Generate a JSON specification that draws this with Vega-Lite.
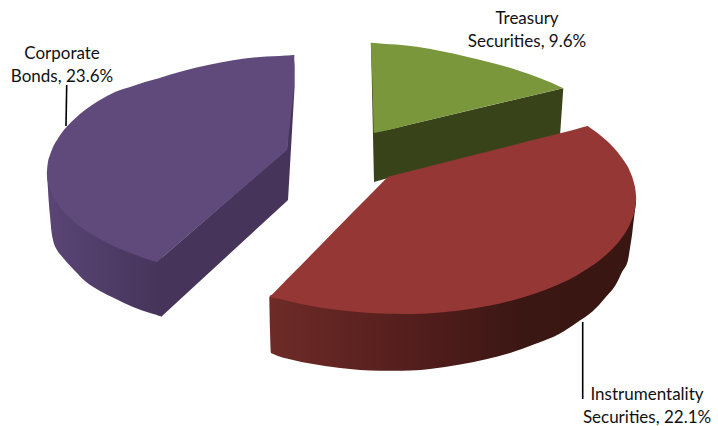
{
  "$schema": "https://vega.github.io/schema/vega-lite/v6.json",
  "width": 718,
  "height": 426,
  "padding": 0,
  "autosize": {"type": "none"},
  "background": "white",
  "config": {"view": {"stroke": null}},
  "datasets": {
    "faces": [
      {"f":"treasury_cut","x":371,"y":43,"y2":43},
      {"f":"treasury_cut","x":372,"y":43,"y2":89},
      {"f":"treasury_cut","x":374,"y":44,"y2":182},
      {"f":"treasury_cut","x":388,"y":129.7,"y2":178},
      {"f":"treasury_cut","x":560,"y":89,"y2":136},
      {"f":"treasury_cut","x":563.3,"y":88.3,"y2":88.3},

      {"f":"treasury_top","x":370.7,"y":42.7,"y2":42.7},
      {"f":"treasury_top","x":372,"y":42.8,"y2":73},
      {"f":"treasury_top","x":373,"y":42.9,"y2":103},
      {"f":"treasury_top","x":374,"y":43,"y2":133},
      {"f":"treasury_top","x":375,"y":43.1,"y2":132.8},
      {"f":"treasury_top","x":416.7,"y":46.7,"y2":122.9},
      {"f":"treasury_top","x":466.7,"y":56.7,"y2":111},
      {"f":"treasury_top","x":516.7,"y":70,"y2":99.3},
      {"f":"treasury_top","x":562.3,"y":87.8,"y2":88.5},
      {"f":"treasury_top","x":563.3,"y":88.3,"y2":88.3},

      {"f":"instrumentality_side","x":269.3,"y":297.3,"y2":297.3},
      {"f":"instrumentality_side","x":270,"y":296,"y2":330},
      {"f":"instrumentality_side","x":271,"y":295,"y2":353},
      {"f":"instrumentality_side","x":272,"y":295,"y2":353.5},
      {"f":"instrumentality_side","x":293,"y":297,"y2":360},
      {"f":"instrumentality_side","x":310,"y":300,"y2":363.5},
      {"f":"instrumentality_side","x":340,"y":305,"y2":368},
      {"f":"instrumentality_side","x":360,"y":307,"y2":370},
      {"f":"instrumentality_side","x":380,"y":308,"y2":370.8},
      {"f":"instrumentality_side","x":403,"y":309,"y2":370.7},
      {"f":"instrumentality_side","x":430,"y":308,"y2":369},
      {"f":"instrumentality_side","x":460,"y":305,"y2":364.5},
      {"f":"instrumentality_side","x":485,"y":301,"y2":359.5},
      {"f":"instrumentality_side","x":510,"y":296,"y2":353},
      {"f":"instrumentality_side","x":535,"y":288,"y2":344},
      {"f":"instrumentality_side","x":560,"y":279,"y2":333.5},
      {"f":"instrumentality_side","x":577,"y":270,"y2":322.5},
      {"f":"instrumentality_side","x":593,"y":259,"y2":311},
      {"f":"instrumentality_side","x":605,"y":249,"y2":298},
      {"f":"instrumentality_side","x":616.7,"y":237,"y2":283},
      {"f":"instrumentality_side","x":622,"y":232,"y2":272},
      {"f":"instrumentality_side","x":628,"y":220,"y2":260},
      {"f":"instrumentality_side","x":630,"y":215,"y2":248},
      {"f":"instrumentality_side","x":632,"y":210,"y2":235},
      {"f":"instrumentality_side","x":634,"y":205,"y2":218},
      {"f":"instrumentality_side","x":636,"y":198.3,"y2":203},

      {"f":"instrumentality_top","x":269.3,"y":297.3,"y2":297.3},
      {"f":"instrumentality_top","x":280,"y":286.4,"y2":299},
      {"f":"instrumentality_top","x":293,"y":273.2,"y2":302.2},
      {"f":"instrumentality_top","x":310,"y":255.9,"y2":305.7},
      {"f":"instrumentality_top","x":326.7,"y":238.9,"y2":308.4},
      {"f":"instrumentality_top","x":345,"y":220.3,"y2":310.8},
      {"f":"instrumentality_top","x":360,"y":205.1,"y2":312.3},
      {"f":"instrumentality_top","x":380,"y":184.8,"y2":313.5},
      {"f":"instrumentality_top","x":387,"y":177.7,"y2":313.7},
      {"f":"instrumentality_top","x":388,"y":176.7,"y2":313.8},
      {"f":"instrumentality_top","x":389,"y":176.45,"y2":313.8},
      {"f":"instrumentality_top","x":403,"y":172.9,"y2":314},
      {"f":"instrumentality_top","x":426.7,"y":166.9,"y2":313.4},
      {"f":"instrumentality_top","x":460,"y":158.5,"y2":310.5},
      {"f":"instrumentality_top","x":490,"y":150.9,"y2":305.6},
      {"f":"instrumentality_top","x":510,"y":145.9,"y2":301},
      {"f":"instrumentality_top","x":526.7,"y":141.6,"y2":296.3},
      {"f":"instrumentality_top","x":545,"y":137,"y2":290},
      {"f":"instrumentality_top","x":560,"y":133.2,"y2":283.7},
      {"f":"instrumentality_top","x":576.7,"y":129,"y2":275.4},
      {"f":"instrumentality_top","x":586.7,"y":126.25,"y2":269.3},
      {"f":"instrumentality_top","x":587.7,"y":126,"y2":268.7},
      {"f":"instrumentality_top","x":588.7,"y":126.8,"y2":268},
      {"f":"instrumentality_top","x":600,"y":135,"y2":260},
      {"f":"instrumentality_top","x":613,"y":147,"y2":248.2},
      {"f":"instrumentality_top","x":622,"y":158,"y2":237.6},
      {"f":"instrumentality_top","x":630,"y":171.4,"y2":224},
      {"f":"instrumentality_top","x":634,"y":183,"y2":213},
      {"f":"instrumentality_top","x":635.7,"y":192,"y2":204},
      {"f":"instrumentality_top","x":636.2,"y":198.3,"y2":198.3},

      {"f":"corporate_side","x":47,"y":173,"y2":173},
      {"f":"corporate_side","x":48,"y":177,"y2":190},
      {"f":"corporate_side","x":49,"y":180,"y2":205},
      {"f":"corporate_side","x":50,"y":184,"y2":216},
      {"f":"corporate_side","x":51.5,"y":188,"y2":232},
      {"f":"corporate_side","x":53,"y":191,"y2":240},
      {"f":"corporate_side","x":57,"y":198,"y2":250},
      {"f":"corporate_side","x":62,"y":204,"y2":256.5},
      {"f":"corporate_side","x":67,"y":210,"y2":262.5},
      {"f":"corporate_side","x":75,"y":217,"y2":271},
      {"f":"corporate_side","x":85,"y":225,"y2":281},
      {"f":"corporate_side","x":100,"y":234,"y2":291},
      {"f":"corporate_side","x":115,"y":241,"y2":298.5},
      {"f":"corporate_side","x":133,"y":249,"y2":307},
      {"f":"corporate_side","x":150,"y":255,"y2":313},
      {"f":"corporate_side","x":157,"y":257,"y2":315},
      {"f":"corporate_side","x":162,"y":252,"y2":316.5},

      {"f":"corporate_cut","x":157,"y":262,"y2":315},
      {"f":"corporate_cut","x":161.5,"y":258,"y2":316.5},
      {"f":"corporate_cut","x":287,"y":149,"y2":201},
      {"f":"corporate_cut","x":288,"y":130,"y2":200},
      {"f":"corporate_cut","x":294.5,"y":60,"y2":88},

      {"f":"corporate_top","x":46.8,"y":173,"y2":173},
      {"f":"corporate_top","x":47.3,"y":167,"y2":179},
      {"f":"corporate_top","x":48,"y":162,"y2":182.6},
      {"f":"corporate_top","x":50,"y":155,"y2":189.6},
      {"f":"corporate_top","x":53,"y":147,"y2":196.4},
      {"f":"corporate_top","x":57,"y":140,"y2":203},
      {"f":"corporate_top","x":62,"y":132.5,"y2":209.7},
      {"f":"corporate_top","x":67,"y":126.5,"y2":215},
      {"f":"corporate_top","x":75,"y":118.5,"y2":222.4},
      {"f":"corporate_top","x":85,"y":110,"y2":230},
      {"f":"corporate_top","x":100,"y":100,"y2":239},
      {"f":"corporate_top","x":115,"y":92,"y2":246.7},
      {"f":"corporate_top","x":133,"y":86,"y2":254},
      {"f":"corporate_top","x":145,"y":82,"y2":258.4},
      {"f":"corporate_top","x":156,"y":79,"y2":261.7},
      {"f":"corporate_top","x":157,"y":78.7,"y2":262},
      {"f":"corporate_top","x":158,"y":78.4,"y2":261.14},
      {"f":"corporate_top","x":183,"y":71,"y2":239.6},
      {"f":"corporate_top","x":208,"y":65,"y2":218},
      {"f":"corporate_top","x":233,"y":60.2,"y2":196.5},
      {"f":"corporate_top","x":260,"y":57,"y2":173.3},
      {"f":"corporate_top","x":286,"y":55.6,"y2":150.9},
      {"f":"corporate_top","x":287,"y":55.5,"y2":150},
      {"f":"corporate_top","x":288,"y":55.4,"y2":141.4},
      {"f":"corporate_top","x":293,"y":55.1,"y2":98.2},
      {"f":"corporate_top","x":294.3,"y":55,"y2":87}
    ],
    "leaders": [
      {"x":66.7,"y":85,"x2":66,"y2":126},
      {"x":582.7,"y":322,"x2":582.7,"y2":399}
    ],
    "labels": [
      {"x":62,"y":59,"text":"Corporate"},
      {"x":62,"y":82,"text":"Bonds, 23.6%"},
      {"x":527,"y":24,"text":"Treasury"},
      {"x":527,"y":47,"text":"Securities, 9.6%"},
      {"x":647,"y":400,"text":"Instrumentality"},
      {"x":647,"y":423,"text":"Securities, 22.1%"}
    ]
  },
  "encoding": {
    "x": {"field":"x","type":"quantitative","axis":null,"scale":{"domain":[0,718],"nice":false,"zero":false}},
    "y": {"field":"y","type":"quantitative","axis":null,"scale":{"domain":[0,426],"reverse":true,"nice":false,"zero":false}}
  },
  "layer": [
    {"data":{"name":"faces"},"transform":[{"filter":"datum.f==='treasury_cut'"}],
     "mark":{"type":"area","color":"#384319"},
     "encoding":{"y2":{"field":"y2"}}},
    {"data":{"name":"faces"},"transform":[{"filter":"datum.f==='treasury_top'"}],
     "mark":{"type":"area","color":"#7a973c","interpolate":"monotone"},
     "encoding":{"y2":{"field":"y2"}}},
    {"data":{"name":"faces"},"transform":[{"filter":"datum.f==='instrumentality_side'"}],
     "mark":{"type":"area","interpolate":"monotone","color":{"gradient":"linear","x1":0,"y1":0,"x2":1,"y2":0,
       "stops":[{"offset":0,"color":"#6e2b27"},{"offset":0.45,"color":"#4f1c1b"},{"offset":0.68,"color":"#3b1714"},{"offset":1,"color":"#391612"}]}},
     "encoding":{"y2":{"field":"y2"}}},
    {"data":{"name":"faces"},"transform":[{"filter":"datum.f==='instrumentality_top'"}],
     "mark":{"type":"area","color":"#953735","interpolate":"monotone"},
     "encoding":{"y2":{"field":"y2"}}},
    {"data":{"name":"faces"},"transform":[{"filter":"datum.f==='corporate_side'"}],
     "mark":{"type":"area","interpolate":"monotone","color":{"gradient":"linear","x1":0,"y1":0,"x2":1,"y2":0,
       "stops":[{"offset":0,"color":"#5a4576"},{"offset":1,"color":"#46345a"}]}},
     "encoding":{"y2":{"field":"y2"}}},
    {"data":{"name":"faces"},"transform":[{"filter":"datum.f==='corporate_cut'"}],
     "mark":{"type":"area","color":"#46345a"},
     "encoding":{"y2":{"field":"y2"}}},
    {"data":{"name":"faces"},"transform":[{"filter":"datum.f==='corporate_top'"}],
     "mark":{"type":"area","color":"#604a7b","interpolate":"monotone"},
     "encoding":{"y2":{"field":"y2"}}},
    {"data":{"name":"leaders"},
     "mark":{"type":"rule","color":"#000000","strokeWidth":1.6},
     "encoding":{"x2":{"field":"x2"},"y2":{"field":"y2"}}},
    {"data":{"name":"labels"},
     "mark":{"type":"text","font":"Lato","fontSize":17,"color":"#111111","align":"center","baseline":"alphabetic"},
     "encoding":{"text":{"field":"text"}}}
  ]
}
